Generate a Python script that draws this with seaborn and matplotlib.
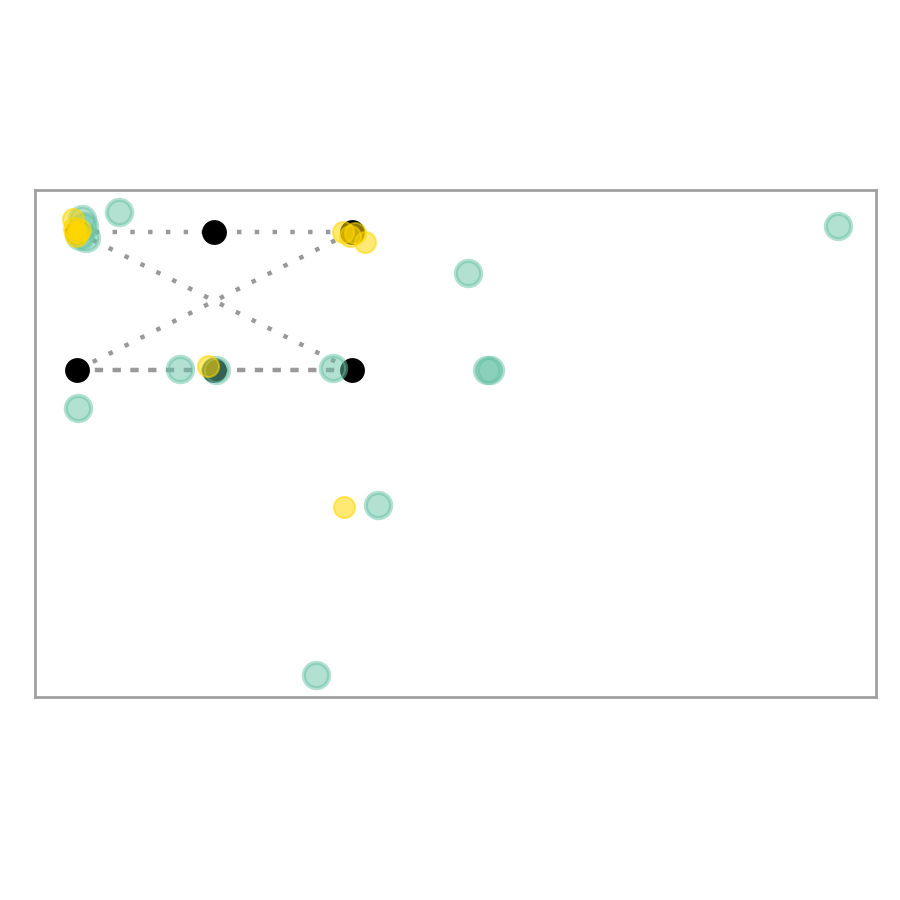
import matplotlib
matplotlib.use('Agg')
import matplotlib.pyplot as plt
import pandas as pd
import seaborn as sns

sns.set_style('white')

# fixed anchor points (black)
anchor_x = [0.0, 1.0, 2.0, 0.0, 1.0, 2.0]
anchor_y = [1.0, 1.0, 1.0, 0.0, 0.0, 0.0]

# dotted links between anchors (index pairs)
edges = [(0, 2), (0, 5), (3, 2), (3, 5), (5, 3)]

# teal samples
teal_x = [0.036, 0.051, 0.065, 0.022, 0.305, 5.535, 2.844, 0.749, 1.011, 1.862,
          2.982, 3.004, 0.007, 2.189, 1.738]
teal_y = [1.094, 1.043, 0.957, 0.971, 1.145, 1.043, 0.703, 0.007, 0.0, 0.014,
          0.0, 0.0, -0.275, -0.978, -2.210]

# yellow samples
gold_x = [-0.029, -0.015, 0.007, -0.007, 0.022, -0.022, 1.935, 1.985, 2.022, 2.095, 0.953, 1.942]
gold_y = [1.094, 1.0, 0.993, 0.971, 1.014, 1.029, 1.0, 0.971, 0.993, 0.928, 0.029, -0.993]

anchors = pd.DataFrame({'x': anchor_x, 'y': anchor_y})
links = pd.DataFrame(
    [{'edge': k, 'x': anchor_x[i], 'y': anchor_y[i]} for k, pair in enumerate(edges) for i in pair]
)
teal = pd.DataFrame({'x': teal_x, 'y': teal_y})
gold = pd.DataFrame({'x': gold_x, 'y': gold_y})

fig = plt.figure(figsize=(9, 9), dpi=100)
ax = fig.add_axes([0.0389, 0.2256, 0.9344, 0.5633])

sns.lineplot(data=links, x='x', y='y', units='edge', estimator=None, sort=False,
             color='#999999', lw=3.2, dashes=False, ax=ax, zorder=1)
for line in ax.lines:
    line.set_dashes((1, 3.0))
    line.set_dash_capstyle('butt')

sns.scatterplot(data=anchors, x='x', y='y', color='black', s=320, linewidth=0, ax=ax, zorder=2)
sns.scatterplot(data=teal, x='x', y='y', color='#66c2a5', edgecolor='#66c2a5', s=330,
                linewidth=3, alpha=0.5, ax=ax, zorder=3)
sns.scatterplot(data=gold, x='x', y='y', color='#ffd700', edgecolor='#ffd700', s=230,
                linewidth=1.5, alpha=0.55, ax=ax, zorder=4)

ax.set_xlim(-0.305, 5.811)
ax.set_ylim(-2.370, 1.304)
ax.set_xticks([])
ax.set_yticks([])
ax.set_xlabel('')
ax.set_ylabel('')
for spine in ax.spines.values():
    spine.set_color('#a0a0a0')
    spine.set_linewidth(2)

plt.savefig('out.png', dpi=100)
